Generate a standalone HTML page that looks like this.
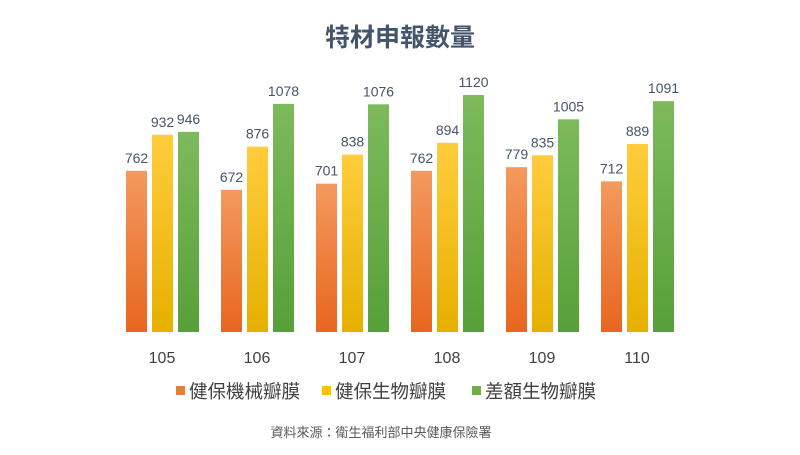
<!DOCTYPE html>
<html><head><meta charset="utf-8"><style>
body{margin:0;background:#fff;width:800px;height:450px;overflow:hidden;font-family:"Liberation Sans","Noto Sans CJK TC",sans-serif}
</style></head><body>
<svg id="chart" width="800" height="450" xmlns="http://www.w3.org/2000/svg">
<defs>
<linearGradient id="gO" x1="0" y1="0" x2="0" y2="1"><stop offset="0" stop-color="#f39a5e"/><stop offset="1" stop-color="#e8661f"/></linearGradient>
<linearGradient id="gY" x1="0" y1="0" x2="0" y2="1"><stop offset="0" stop-color="#ffcd3c"/><stop offset="1" stop-color="#e6b000"/></linearGradient>
<linearGradient id="gG" x1="0" y1="0" x2="0" y2="1"><stop offset="0" stop-color="#7dba5c"/><stop offset="1" stop-color="#57a038"/></linearGradient>
</defs>
<text x="400" y="46" text-anchor="middle" font-size="25" font-weight="bold" fill="#44546a" font-family="'Liberation Sans','Noto Sans CJK TC',sans-serif">特材申報數量</text>
<g id="bars"></g>
<g font-size="18.5" fill="#404040" font-family="'Liberation Sans','Noto Sans CJK TC',sans-serif">
<g><rect x="176" y="386" width="9" height="9" fill="#ed7d31"/><text x="189" y="398">健保機械瓣膜</text></g>
<g><rect x="322" y="386" width="9" height="9" fill="#ffc000"/><text x="335" y="398">健保生物瓣膜</text></g>
<g><rect x="472" y="386" width="9" height="9" fill="#70ad47"/><text x="485" y="398">差額生物瓣膜</text></g>
</g>
<text x="381" y="437" text-anchor="middle" font-size="13" fill="#595959" font-family="'Liberation Sans','Noto Sans CJK TC',sans-serif">資料來源：衛生福利部中央健康保險署</text>
</svg>
<script>
const categories=["105","106","107","108","109","110"];
const mechanical=[762,672,701,762,779,712];
const bio=[932,876,838,894,835,889];
const diffBio=[946,1078,1076,1120,1005,1091];
const baseY=332, topY=95, maxV=1120;
function y(v){return baseY-(v/maxV)*(baseY-topY);}
function gx(i){return 152+i*95;}
const NS="http://www.w3.org/2000/svg";
const g=document.getElementById("bars");
const series=[[mechanical,"url(#gO)",-26,"mechanical"],[bio,"url(#gY)",0,"bio"],[diffBio,"url(#gG)",26,"diff-bio"]];
categories.forEach((c,i)=>{
 series.forEach(s=>{
  const v=s[0][i];const x=gx(i)+s[2];
  const r=document.createElementNS(NS,"rect");
  r.setAttribute("x",x);r.setAttribute("y",y(v));r.setAttribute("width",21);r.setAttribute("height",baseY-y(v));r.setAttribute("fill",s[1]);
  
  
  g.appendChild(r);
  const t=document.createElementNS(NS,"text");
  t.setAttribute("x",x+10.5);t.setAttribute("y",y(v)-8);t.setAttribute("text-anchor","middle");t.setAttribute("font-size","14");t.setAttribute("fill","#44546a");
  t.textContent=v;
  
  
  g.appendChild(t);
 });
 const l=document.createElementNS(NS,"text");
 l.setAttribute("x",gx(i)+10);l.setAttribute("y",363);l.setAttribute("text-anchor","middle");l.setAttribute("font-size","16");l.setAttribute("fill","#404040");
 l.textContent=c;
 
 
 g.appendChild(l);
});
</script>
</body></html>
